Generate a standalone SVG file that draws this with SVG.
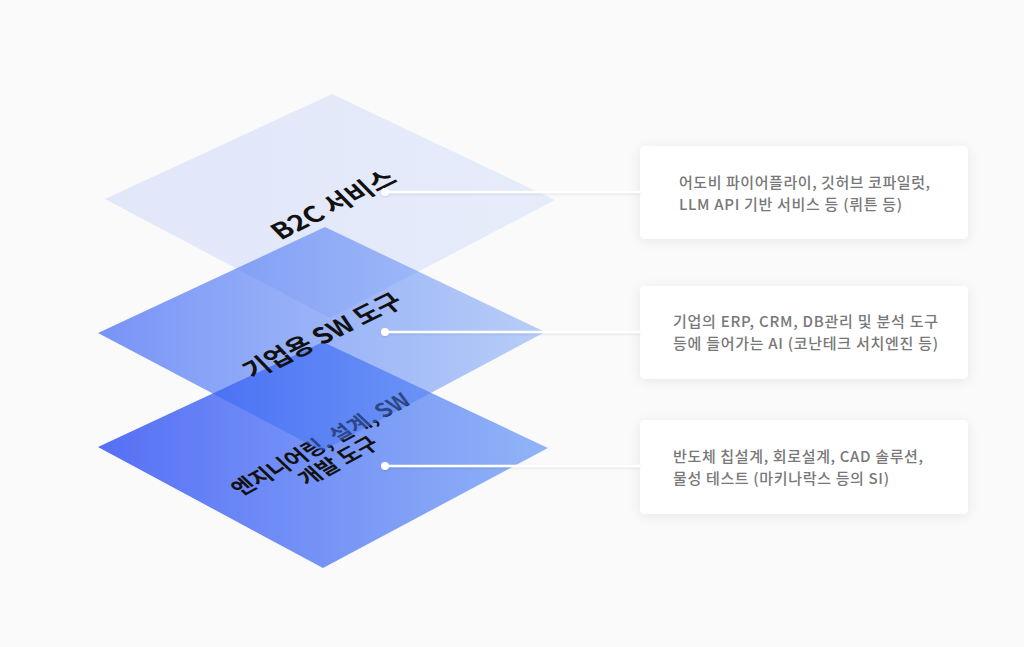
<svg xmlns="http://www.w3.org/2000/svg" width="1024" height="647" viewBox="0 0 1024 647">
  <defs>
    <linearGradient id="gTop" x1="0" y1="0.5" x2="1" y2="0.5">
      <stop offset="0" stop-color="#2e59f4" stop-opacity="0.12"/>
      <stop offset="1" stop-color="#5b8ff5" stop-opacity="0.13"/>
    </linearGradient>
    <linearGradient id="gMid" x1="0" y1="0.5" x2="1" y2="0.5">
      <stop offset="0" stop-color="#2e59f4" stop-opacity="0.64"/>
      <stop offset="1" stop-color="#5b8ff5" stop-opacity="0.42"/>
    </linearGradient>
    <linearGradient id="gBot" x1="0" y1="0.5" x2="1" y2="0.5">
      <stop offset="0" stop-color="#3250f5" stop-opacity="0.82"/>
      <stop offset="1" stop-color="#5b8ff5" stop-opacity="0.66"/>
    </linearGradient>
    <filter id="cardShadow" x="-10%" y="-20%" width="120%" height="150%">
      <feDropShadow dx="0" dy="2" stdDeviation="6" flood-color="#000" flood-opacity="0.08"/>
    </filter>
    <filter id="lineShadow" x="-5%" y="-200%" width="110%" height="500%">
      <feDropShadow dx="0" dy="1" stdDeviation="1.2" flood-color="#000" flood-opacity="0.12"/>
    </filter>
  </defs>
  <style>
    .lbl { font-family: "Noto Sans CJK KR", "Noto Sans", sans-serif; font-weight: 700; fill: #111; text-anchor: middle; dominant-baseline: central; }
    .desc { font-family: "Noto Sans CJK KR", "Noto Sans", sans-serif; font-weight: 500; font-size: 15px; fill: #787878; }
    .card { fill: #ffffff; filter: url(#cardShadow); }
    .conn { stroke: #ffffff; stroke-width: 2.5; fill: none; }
    .dot { fill: #ffffff; }
  </style>
  <rect width="1024" height="647" fill="#fafafa"/>

  <g id="layer-b2c">
    <path d="M332,94 L555,200 L330,318 L105,199 Z" fill="url(#gTop)"/>
    <text class="lbl" font-size="24" transform="translate(332,203) rotate(-26.5) skewX(18)" textLength="132" lengthAdjust="spacingAndGlyphs">B2C 서비스</text>
  </g>

  <g id="layer-engineering">
    <path d="M323,342 L548,448 L323,568 L98,447 Z" fill="url(#gBot)"/>
    <g transform="translate(328,451) rotate(-28.5) skewX(18)">
      <text class="lbl" font-size="21" x="0" y="-11" textLength="196" lengthAdjust="spacingAndGlyphs">엔지니어링, 설계, SW</text>
      <text class="lbl" font-size="21" x="0" y="12" textLength="84" lengthAdjust="spacingAndGlyphs">개발 도구</text>
    </g>
  </g>

  <g id="layer-enterprise">
    <path d="M325,227 L545,332 L322,451 L98,333 Z" fill="url(#gMid)"/>
    <text class="lbl" font-size="24" transform="translate(321,334) rotate(-26) skewX(18)" textLength="170" lengthAdjust="spacingAndGlyphs">기업용 SW 도구</text>
  </g>

  <g id="card-b2c">
    <rect class="card" x="640" y="146" width="328" height="93" rx="5"/>
    <text class="desc" x="679" y="188" textLength="251" lengthAdjust="spacing">어도비 파이어플라이, 깃허브 코파일럿,</text>
    <text class="desc" x="679" y="210" textLength="223" lengthAdjust="spacing">LLM API 기반 서비스 등 (뤼튼 등)</text>
  </g>

  <g id="card-enterprise">
    <rect class="card" x="640" y="286" width="328" height="93" rx="5"/>
    <text class="desc" x="673" y="327" textLength="265" lengthAdjust="spacing">기업의 ERP, CRM, DB관리 및 분석 도구</text>
    <text class="desc" x="673" y="349" textLength="265" lengthAdjust="spacing">등에 들어가는 AI  (코난테크 서치엔진 등)</text>
  </g>

  <g id="card-engineering">
    <rect class="card" x="640" y="420" width="328" height="94" rx="5"/>
    <text class="desc" x="673" y="462" textLength="250" lengthAdjust="spacing">반도체 칩설계, 회로설계, CAD 솔루션,</text>
    <text class="desc" x="673" y="484" textLength="216" lengthAdjust="spacing">물성 테스트 (마키나락스  등의 SI)</text>
  </g>

  <g id="connectors" filter="url(#lineShadow)">
    <line class="conn" x1="385" y1="192" x2="640" y2="192"/>
    <circle class="dot" cx="385" cy="192" r="4"/>
    <line class="conn" x1="385" y1="332" x2="640" y2="332"/>
    <circle class="dot" cx="385" cy="332" r="4"/>
    <line class="conn" x1="385" y1="466" x2="640" y2="466"/>
    <circle class="dot" cx="385" cy="466" r="4"/>
  </g>
</svg>
